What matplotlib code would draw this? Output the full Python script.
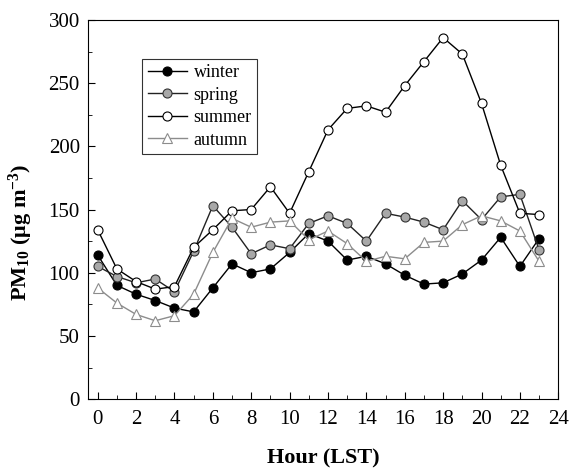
import numpy as np
import matplotlib
matplotlib.use("Agg")
import matplotlib.pyplot as plt
from matplotlib.ticker import MultipleLocator

# hourly mean PM10 by season
hours = np.arange(0, 24)
winter = [114, 90, 83, 78, 72, 69, 88, 107, 100, 103, 116, 131, 125, 110, 113, 107, 98, 91, 92, 99, 110, 128, 105, 127]
spring = [105, 97, 92, 95, 85, 117, 153, 136, 115, 122, 119, 139, 145, 139, 125, 147, 144, 140, 134, 157, 142, 160, 162, 118]
summer = [134, 103, 93, 87, 89, 120, 134, 149, 150, 168, 147, 180, 213, 230, 232, 227, 248, 267, 286, 273, 234, 185, 147, 146]
autumn = [88, 76, 67, 62, 66, 83, 116, 143, 136, 140, 141, 126, 133, 123, 109, 113, 111, 124, 125, 138, 145, 141, 133, 109]

plt.rcParams['font.family'] = ['Liberation Serif', 'DejaVu Serif']
plt.rcParams['mathtext.default'] = 'regular'

fig = plt.figure(figsize=(5.72, 4.74), dpi=100)
ax = fig.add_axes([0.154, 0.158, 0.822, 0.800])

ms = 6.5
ax.plot(hours, winter, '-o', color='black', lw=1, ms=ms, mfc='black', mec='black', mew=0.8, label='winter')
ax.plot(hours, spring, '-o', color='#222222', lw=1, ms=ms, mfc='#a8a8a8', mec='#333333', mew=0.8, label='spring')
ax.plot(hours, summer, '-o', color='black', lw=1, ms=ms, mfc='white', mec='black', mew=0.8, label='summer')
ax.plot(hours, autumn, '-^', color='#8c8c8c', lw=1, ms=ms + 0.5, mfc='white', mec='#8c8c8c', mew=0.8, label='autumn')

ax.set_xlim(-0.5, 24)
ax.set_ylim(0, 300)
ax.xaxis.set_major_locator(MultipleLocator(2))
ax.xaxis.set_minor_locator(MultipleLocator(1))
ax.yaxis.set_major_locator(MultipleLocator(50))
ax.yaxis.set_minor_locator(MultipleLocator(25))
ax.tick_params(which='both', direction='in', labelsize=15)
ax.tick_params(which='major', length=5)
ax.tick_params(which='minor', length=3)
ax.tick_params(axis='x', which='major', pad=8)
ax.tick_params(axis='y', which='major', pad=6)

ax.set_xlabel('Hour (LST)', fontsize=16, fontweight='bold', labelpad=14)
ax.set_ylabel('PM$_{10}$ (μg m$^{-3}$)', fontsize=16, fontweight='bold', labelpad=8)
ax.yaxis.set_label_coords(-0.112, 0.44)

leg = ax.legend(loc='upper left', bbox_to_anchor=(0.115, 0.897), borderaxespad=0,
                fontsize=13, fancybox=False, edgecolor='black', handlelength=2.2,
                labelspacing=0.3, borderpad=0.3, handletextpad=0.35)
leg.get_frame().set_linewidth(0.8)

fig.savefig('out.png', dpi=100)
